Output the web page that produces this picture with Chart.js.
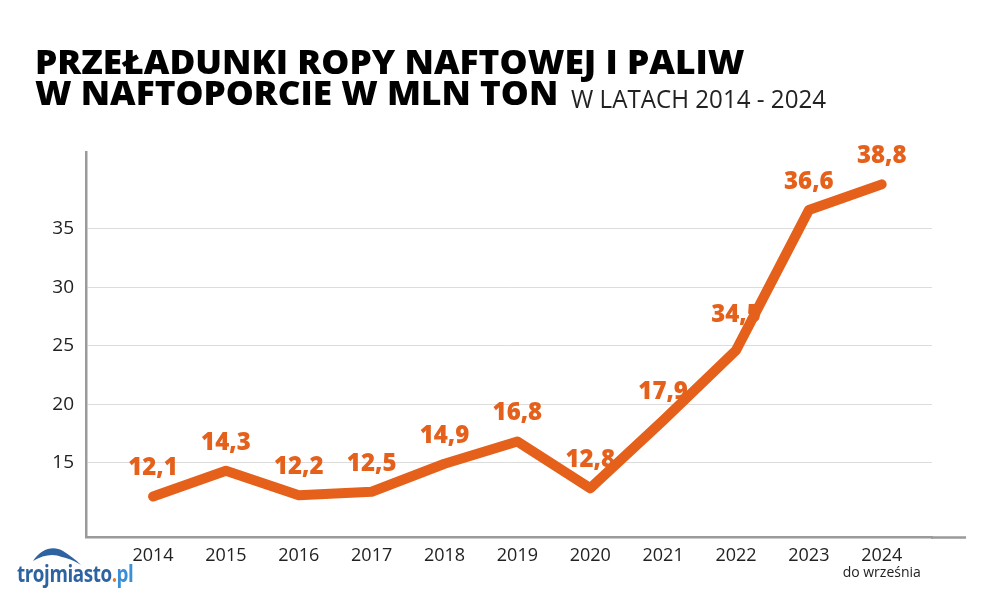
<!DOCTYPE html>
<html lang="pl">
<head>
<meta charset="utf-8">
<title>Przeładunki ropy naftowej i paliw w Naftoporcie</title>
<script src="https://cdn.jsdelivr.net/npm/chart.js@4.4.1/dist/chart.umd.min.js"></script>
<style>
  html, body { margin: 0; padding: 0; background: #fff; }
  body { width: 1000px; height: 600px; position: relative; overflow: hidden; font-family: 'Open Sans', sans-serif; }
  #wrap { position: absolute; left: 0; top: 0; width: 1000px; height: 600px; }
  .t { position: absolute; white-space: nowrap; transform-origin: 0 0; color: #000; }
  .big { font-size: 34px; line-height: 33px; font-weight: 800; }
  .sub { font-size: 25px; line-height: 25px; font-weight: 400; color: #222; }
  #logo { position: absolute; left: 17px; top: 543px; width: 130px; height: 52px; }
  #logoText { position: absolute; left: 0; top: 19px; font-size: 23px; line-height: 23px; font-weight: 700;
              color: #2d63a0; white-space: nowrap; transform-origin: 0 0; letter-spacing: -0.5px; }
  #logoText .dot { color: #e8772a; }
  #logoText .pl { color: #3b8fd6; }
</style>
</head>
<body>
<div id="wrap"><canvas id="chart"></canvas></div>

<div class="t big" id="title1" style="left:35px; top:45px;">PRZEŁADUNKI ROPY NAFTOWEJ I PALIW</div>
<div class="t big" id="title2" style="left:35px; top:76px;">W NAFTOPORCIE W MLN TON</div>
<div class="t sub" id="title3" style="left:571px; top:86px;">W LATACH 2014 - 2024</div>

<div id="logo">
  <svg width="80" height="24" style="position:absolute;left:0;top:0;">
    <path d="M16 18 C 24 6, 36 2, 46 8 C 52 12, 58 16, 64 22 C 56 17, 50 15, 45 14 C 36 10, 26 12, 16 18 Z" fill="#2d63a0"/>
  </svg>
  <div id="logoText">trojmiasto<span class="dot">.</span><span class="pl">pl</span></div>
</div>

<script>
/* ── data ─────────────────────────────────────── */

const YEARS = [2014, 2015, 2016, 2017, 2018, 2019, 2020, 2021, 2022, 2023, 2024];
const VALUES = [12.1, 14.3, 12.2, 12.5, 14.9, 16.8, 12.8, 18.6, 24.6, 36.6, 38.8];
const VALUE_LABELS = ['12,1', '14,3', '12,2', '12,5', '14,9', '16,8', '12,8', '17,9', '34,5', '36,6', '38,8'];
const Y_TICKS = [15, 20, 25, 30, 35];
const LAST_NOTE = 'do września';

const ORANGE = '#E5601A';
const TICK_COLOR = '#222';

/* ── title fit (condensed look) ───────────────── */

function fitWidth(id, target) {
  const el = document.getElementById(id);
  el.style.transform = 'scaleX(' + (target / el.offsetWidth) + ')';
}

/* ── plugins ──────────────────────────────────── */

// value labels, drawn under the line like in the original;
// lifted a little more where the next segment climbs steeply
const valueLabels = {
  id: 'valueLabels',
  beforeDatasetsDraw(chart) {
    const ctx = chart.ctx;
    const pts = chart.getDatasetMeta(0).data;
    ctx.save();
    ctx.font = '800 24px "Open Sans"';
    ctx.fillStyle = ORANGE;
    ctx.textAlign = 'center';
    ctx.textBaseline = 'middle';
    pts.forEach((p, i) => {
      const next = pts[i + 1];
      const steep = next && (p.y - next.y) / (next.x - p.x) > 1.5;
      ctx.fillText(VALUE_LABELS[i], p.x, p.y - (steep ? 35 : 28));
    });
    ctx.restore();
  }
};

// axis line runs a bit past the grid, plus the note under the last year
const axisExtras = {
  id: 'axisExtras',
  afterDraw(chart) {
    const ctx = chart.ctx;
    const a = chart.chartArea;
    const xs = chart.scales.x;
    ctx.save();
    ctx.strokeStyle = '#9a9a9a';
    ctx.lineWidth = 2.5;
    ctx.beginPath();
    ctx.moveTo(a.right - 1, a.bottom + 0.5);
    ctx.lineTo(a.right + 34, a.bottom + 0.5);
    ctx.stroke();

    ctx.font = '14px "Open Sans"';
    ctx.fillStyle = TICK_COLOR;
    ctx.textAlign = 'center';
    ctx.textBaseline = 'middle';
    ctx.fillText(LAST_NOTE, xs.getPixelForValue(YEARS[YEARS.length - 1]), a.bottom + 36);
    ctx.restore();
  }
};

/* ── chart ────────────────────────────────────── */

function buildChart() {
  fitWidth('title1', 710);
  fitWidth('title2', 523);
  fitWidth('title3', 255);
  fitWidth('logoText', 116);

  const ctx = document.getElementById('chart').getContext('2d');
  new Chart(ctx, {
    type: 'line',
    data: {
      datasets: [{
        data: YEARS.map((y, i) => ({ x: y, y: VALUES[i] })),
        borderColor: ORANGE,
        borderWidth: 10,
        borderCapStyle: 'round',
        borderJoinStyle: 'round',
        pointRadius: 0,
        tension: 0,
        fill: false
      }]
    },
    options: {
      responsive: true,
      maintainAspectRatio: false,
      animation: false,
      layout: { padding: { top: 152, right: 68, left: 0, bottom: 0 } },
      plugins: { legend: { display: false }, tooltip: { enabled: false } },
      scales: {
        x: {
          type: 'linear',
          min: 2013.08,
          max: 2024.69,
          afterBuildTicks: s => { s.ticks = YEARS.map(v => ({ value: v })); },
          afterFit: s => { s.height = 63; },
          grid: { display: false, drawTicks: false },
          border: { display: true, color: '#9a9a9a', width: 2.5 },
          ticks: {
            padding: 8,
            color: TICK_COLOR,
            autoSkip: false,
            maxRotation: 0,
            font: { family: 'Open Sans', size: 18 },
            callback: v => String(v)
          }
        },
        y: {
          min: 8.63,
          max: 41.57,
          afterBuildTicks: s => { s.ticks = Y_TICKS.map(v => ({ value: v })); },
          afterFit: s => { s.width = 86; },
          grid: { color: '#dcdcdc', lineWidth: 1, drawTicks: false },
          border: { display: true, color: '#9a9a9a', width: 2.5 },
          ticks: {
            padding: 12,
            color: TICK_COLOR,
            font: { family: 'Open Sans', size: 19 },
            callback: v => String(v)
          }
        }
      }
    },
    plugins: [valueLabels, axisExtras]
  });
}

Promise.all([
  document.fonts.load('800 34px "Open Sans"'),
  document.fonts.load('800 24px "Open Sans"'),
  document.fonts.load('400 18px "Open Sans"')
]).then(buildChart, buildChart);
</script>
</body>
</html>
